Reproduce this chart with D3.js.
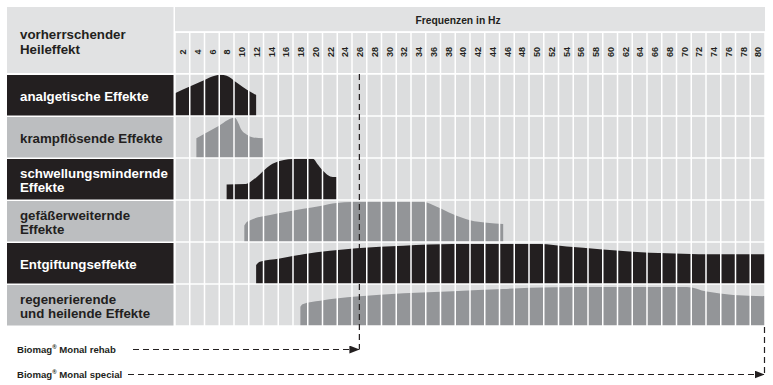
<!DOCTYPE html>
<html>
<head>
<meta charset="utf-8">
<script src="https://cdn.jsdelivr.net/npm/d3@7"></script>
<style>
  body { margin: 0; background: #fff; }
  text { font-family: "Liberation Sans", Arial, sans-serif; }
</style>
</head>
<body>
<div id="chart"></div>
<script>
//////////////////////////////////////////////
// data //////////////////////////////////////
//////////////////////////////////////////////

// Frequenzen (Spaltenbeschriftung)
var freqTicks = d3.range(2, 81, 2);

// Zeilen: Heileffekte
var rowLabels = [
  ["analgetische Effekte"],
  ["krampflösende Effekte"],
  ["schwellungsmindernde", "Effekte"],
  ["gefäßerweiternde", "Effekte"],
  ["Entgiftungseffekte"],
  ["regenerierende", "und heilende Effekte"]
];

// Profile: [Frequenz in Hz, Intensität 0..1 der Zeilenhöhe]
var analgetisch = [[0, 0.54], [2, 0.7], [4, 0.86], [5.4, 0.96], [6.2, 0.98], [7, 0.96], [8.4, 0.79], [9.8, 0.62], [11, 0.5]];
var krampfloesend = [[2.9, 0.47], [5.6, 0.73], [8.1, 0.96], [8.6, 0.83], [9, 0.67], [9.7, 0.56], [10.6, 0.49], [12, 0.47]];
var schwellung = [[7, 0.37], [9.6, 0.38], [10.2, 0.43], [11.1, 0.55], [12.9, 0.83], [14.2, 0.93], [16.5, 0.98], [18.7, 0.98], [19.3, 0.86], [20, 0.71], [21.4, 0.55], [21.9, 0.55]];
var gefaess = [[9.4, 0.39], [9.7, 0.47], [10.2, 0.52], [12.9, 0.64], [17.4, 0.79], [19.7, 0.86], [21.9, 0.93], [24, 0.95], [33.7, 0.95], [35.5, 0.84], [37.7, 0.66], [40, 0.52], [42.3, 0.46], [44.5, 0.43]];
var entgiftung = [[11, 0.45], [11.5, 0.53], [14.2, 0.61], [17.4, 0.71], [24.6, 0.85], [31, 0.91], [37.7, 0.95], [49.5, 0.95], [53.1, 0.89], [57.6, 0.83], [62.1, 0.77], [66.7, 0.73], [71, 0.71], [80, 0.71]];
var regeneration = [[17, 0.46], [17.3, 0.52], [19.7, 0.6], [24.6, 0.7], [31, 0.78], [37.7, 0.83], [44.5, 0.88], [48.1, 0.91], [55, 0.93], [69.4, 0.93], [72.1, 0.82], [75.7, 0.74], [80, 0.71]];

var profiles = [analgetisch, krampfloesend, schwellung, gefaess, entgiftung, regeneration];

// Geräte: bis zu welcher Frequenz
var devices = ["Biomag", "Biomag"];
var deviceNames = [" Monal rehab", " Monal special"];
var deviceMaxFreq = [25, 80];

//////////////////////////////////////////////
// Chart Config /////////////////////////////
//////////////////////////////////////////////

var width = 773, height = 385;
var dark = "#231f20", midGrey = "#939598", labelGrey = "#bcbec0",
    gridGrey = "#dcddde", headGrey = "#e1e2e3";

var svg = d3.select("#chart").append("svg")
  .attr("width", width)
  .attr("height", height);

// x: Frequenz -> Pixel
var xScale = d3.scaleLinear().domain([0, 80]).range([175, 765]);
// y: Zeilen
var yRow = d3.scaleBand().domain(d3.range(rowLabels.length)).range([74, 326]);
var rowH = yRow.bandwidth();

//////////////////////////////////////////////
// Kopf /////////////////////////////////////
//////////////////////////////////////////////
svg.append("rect")
  .attr("x", 7).attr("y", 7).attr("width", 166.5).attr("height", 66)
  .style("fill", headGrey);

svg.append("g").selectAll("text")
  .data(["vorherrschender", "Heileffekt"])
  .join("text")
  .attr("x", 20)
  .attr("y", function(d, i) { return 38.5 + i * 15; })
  .style("font-size", "13.3px").style("font-weight", "bold").style("fill", dark)
  .text(function(d) { return d; });

svg.append("rect")
  .attr("x", xScale(0)).attr("y", 7).attr("width", xScale(80) - xScale(0)).attr("height", 24.5)
  .style("fill", headGrey);
svg.append("rect")
  .attr("x", xScale(0)).attr("y", 33).attr("width", xScale(80) - xScale(0)).attr("height", 40)
  .style("fill", headGrey);

svg.append("text")
  .attr("x", 458).attr("y", 24)
  .attr("text-anchor", "middle")
  .style("font-size", "10.3px").style("font-weight", "bold").style("fill", dark)
  .text("Frequenzen in Hz");

// Frequenz-Achse (gedreht)
var xAxis = d3.axisTop(xScale)
  .tickValues(freqTicks.map(function(f) { return f - 1; }))
  .tickFormat(function(d) { return d + 1; })
  .tickSize(0);

var xAxisEl = svg.append("g")
  .attr("class", "x axis")
  .attr("transform", "translate(0,52)")
  .call(xAxis);
xAxisEl.select(".domain").remove();
xAxisEl.selectAll("text")
  .attr("transform", "rotate(-90)")
  .attr("x", 0).attr("y", 0).attr("dy", "0.35em")
  .attr("text-anchor", "middle")
  .style("font-family", "'Liberation Sans', Arial, sans-serif")
  .style("font-size", "9px").style("font-weight", "bold").style("fill", dark);

//////////////////////////////////////////////
// Zeilen ///////////////////////////////////
//////////////////////////////////////////////

// Hintergrund Raster
svg.append("rect")
  .attr("x", xScale(0)).attr("y", yRow(0))
  .attr("width", xScale(80) - xScale(0)).attr("height", rowH * rowLabels.length)
  .style("fill", gridGrey);

// Labelzellen
var labels = svg.append("g").selectAll("g")
  .data(rowLabels)
  .join("g")
  .attr("transform", function(d, i) { return "translate(0," + yRow(i) + ")"; });

labels.append("rect")
  .attr("x", 7).attr("y", 1).attr("width", 166.5).attr("height", rowH - 1.5)
  .style("fill", function(d, i) { return i % 2 == 0 ? dark : labelGrey; });

labels.each(function(lines, i) {
  var mid = rowH / 2;
  d3.select(this).selectAll("text")
    .data(lines)
    .join("text")
    .attr("x", 20)
    .attr("y", function(d, j) {
      if (lines.length == 1) return mid + 6;
      return mid - 1.5 + j * 14.5;
    })
    .style("font-size", "13.3px").style("font-weight", "bold")
    .style("fill", i % 2 == 0 ? "#fff" : dark)
    .text(function(d) { return d; });
});

// Flächen
var area = d3.area()
  .curve(d3.curveMonotoneX)
  .x(function(d) { return xScale(d[0]); });

svg.append("g").selectAll("path")
  .data(profiles)
  .join("path")
  .attr("d", function(d, i) {
    var bottom = yRow(i) + rowH;
    area.y0(bottom).y1(function(p) { return bottom - p[1] * rowH; });
    return area(d);
  })
  .style("fill", function(d, i) { return i % 2 == 0 ? dark : midGrey; });

// weiße Rasterlinien
svg.append("g").selectAll("line")
  .data(d3.range(0, 81, 2))
  .join("line")
  .attr("x1", function(d) { return xScale(d); })
  .attr("x2", function(d) { return xScale(d); })
  .attr("y1", 32).attr("y2", yRow(rowLabels.length - 1) + rowH)
  .style("stroke", "#fff").style("stroke-width", 1.5);

svg.append("g").selectAll("line")
  .data(d3.range(rowLabels.length + 1))
  .join("line")
  .attr("x1", xScale(0)).attr("x2", xScale(80) + 1)
  .attr("y1", function(d) { return yRow(0) + d * rowH; })
  .attr("y2", function(d) { return yRow(0) + d * rowH; })
  .style("stroke", "#fff").style("stroke-width", 1.5);

svg.append("line")
  .attr("x1", xScale(0)).attr("x2", xScale(80))
  .attr("y1", 32).attr("y2", 32)
  .style("stroke", "#fff").style("stroke-width", 1.5);

//////////////////////////////////////////////
// Geräte-Pfeile /////////////////////////////
//////////////////////////////////////////////
svg.append("defs").append("marker")
  .attr("id", "arrow")
  .attr("viewBox", "0 0 10 8")
  .attr("refX", 10).attr("refY", 4)
  .attr("markerWidth", 10).attr("markerHeight", 8)
  .attr("markerUnits", "userSpaceOnUse")
  .attr("orient", "auto")
  .append("path")
  .attr("d", "M0,0L10,4L0,8Z")
  .style("fill", dark);

var devY = [349.5, 374.5];
var devStart = [133, 128];

devices.forEach(function(name, i) {
  var xEnd = i == 0 ? xScale(deviceMaxFreq[i]) : xScale(deviceMaxFreq[i]) - 0.5;
  var yTop = i == 0 ? yRow(0) : yRow(rowLabels.length - 1) + rowH + 1;

  var t = svg.append("text")
    .attr("x", 17).attr("y", devY[i] + 3)
    .style("font-size", "9.6px").style("font-weight", "bold").style("fill", dark);
  t.append("tspan").text(name);
  t.append("tspan").attr("dy", -3.5).style("font-size", "6px").text("®");
  t.append("tspan").attr("dy", 3.5).text(deviceNames[i]);

  // senkrechte Linie
  svg.append("line")
    .attr("x1", xEnd).attr("x2", xEnd)
    .attr("y1", yTop).attr("y2", devY[i])
    .style("stroke", dark).style("stroke-width", 1.2)
    .style("stroke-dasharray", "6,4");

  // waagrechte Linie mit Pfeil
  svg.append("line")
    .attr("x1", devStart[i]).attr("x2", xEnd)
    .attr("y1", devY[i]).attr("y2", devY[i])
    .attr("marker-end", "url(#arrow)")
    .style("stroke", dark).style("stroke-width", 1.2)
    .style("stroke-dasharray", "6,4");
});
</script>
</body>
</html>
